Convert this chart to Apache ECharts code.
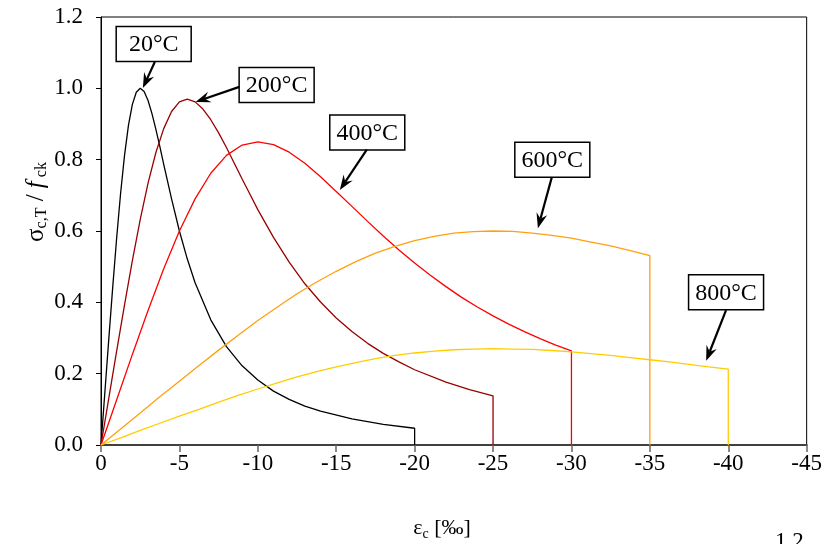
<!DOCTYPE html>
<html>
<head>
<meta charset="utf-8">
<script src="https://cdn.jsdelivr.net/npm/echarts@6/dist/echarts.min.js"></script>
<style>
  html, body { margin: 0; padding: 0; background: #fff; }
  #chart { width: 825px; height: 544px; }
</style>
</head>
<body>
<div id="chart"></div>
<script>
// strain [‰] (magnitude) and relative stress sigma/fck
const strain20 = [0, 0.25, 0.5, 0.75, 1, 1.25, 1.5, 1.75, 2, 2.25, 2.5, 2.75, 3, 3.25, 3.5, 3.75, 4, 4.5, 5, 5.5, 6, 7, 8, 9, 10, 11, 12, 13, 14, 16, 18, 20, 20]
const stress20 = [0, 0.150, 0.299, 0.444, 0.581, 0.706, 0.812, 0.896, 0.955, 0.989, 1.0, 0.991, 0.966, 0.929, 0.885, 0.837, 0.787, 0.690, 0.600, 0.522, 0.455, 0.351, 0.276, 0.222, 0.182, 0.151, 0.128, 0.109, 0.095, 0.073, 0.058, 0.047, 0]

const strain200 = [0, 0.5, 1, 1.5, 2, 2.5, 3, 3.5, 4, 4.5, 5, 5.5, 6, 6.5, 7, 7.5, 8, 8.5, 9, 9.5, 10, 11, 12, 13, 14, 15, 16, 17, 18, 19, 20, 22, 23.5, 25, 25]
const stress200 = [0, 0.132, 0.264, 0.393, 0.517, 0.632, 0.734, 0.820, 0.887, 0.935, 0.962, 0.970, 0.962, 0.942, 0.912, 0.875, 0.834, 0.790, 0.746, 0.703, 0.660, 0.582, 0.513, 0.452, 0.401, 0.356, 0.318, 0.285, 0.257, 0.233, 0.211, 0.176, 0.155, 0.138, 0]

const strain400 = [0, 1, 2, 3, 4, 5, 6, 7, 8, 9, 10, 11, 12, 13, 14, 15, 16, 17, 18, 19, 20, 21, 22, 23, 24, 25, 26, 27, 28, 29, 30, 30]
const stress400 = [0, 0.127, 0.254, 0.377, 0.494, 0.600, 0.690, 0.762, 0.812, 0.841, 0.850, 0.842, 0.821, 0.790, 0.752, 0.711, 0.669, 0.627, 0.586, 0.547, 0.510, 0.476, 0.444, 0.414, 0.387, 0.362, 0.339, 0.318, 0.298, 0.280, 0.264, 0]

const strain600 = [0, 1.25, 2.5, 3.75, 5, 6.25, 7.5, 8.75, 10, 11.25, 12.5, 13.75, 15, 16.25, 17.5, 18.75, 20, 21.25, 22.5, 23.75, 25, 26.25, 27.5, 28.75, 30, 31.25, 32.5, 33.75, 35, 35]
const stress600 = [0, 0.045, 0.090, 0.135, 0.179, 0.223, 0.266, 0.308, 0.349, 0.387, 0.424, 0.457, 0.487, 0.514, 0.538, 0.557, 0.573, 0.585, 0.594, 0.598, 0.600, 0.599, 0.594, 0.588, 0.580, 0.569, 0.558, 0.545, 0.531, 0]

const strain800 = [0, 1.25, 2.5, 3.75, 5, 6.25, 7.5, 8.75, 10, 11.25, 12.5, 13.75, 15, 16.25, 17.5, 18.75, 20, 21.25, 22.5, 23.75, 25, 26.25, 27.5, 28.75, 30, 31.25, 32.5, 33.75, 35, 36.25, 37.5, 38.75, 40, 40]
const stress800 = [0, 0.020, 0.041, 0.061, 0.081, 0.100, 0.120, 0.139, 0.157, 0.174, 0.191, 0.206, 0.219, 0.231, 0.242, 0.251, 0.258, 0.263, 0.267, 0.269, 0.270, 0.269, 0.268, 0.265, 0.261, 0.256, 0.251, 0.245, 0.239, 0.233, 0.226, 0.219, 0.213, 0]

const curveNames = ['20°C', '200°C', '400°C', '600°C', '800°C']
const curveColors = ['#000000', '#990000', '#ff0000', '#ffa010', '#ffcc00']
const curveStrains = [strain20, strain200, strain400, strain600, strain800]
const curveStresses = [stress20, stress200, stress400, stress600, stress800]

const xTicks = { min: -45, max: 0, interval: 5 }
const yTicks = { min: 0, max: 1.2, interval: 0.2 }

// label boxes: box centre, arrow tail, arrow tip (data coords)
const labelBox = [[-3.36, 1.124], [-11.2, 1.009], [-16.98, 0.876], [-28.78, 0.800], [-39.86, 0.428]]
const arrowTail = [[-3.43, 1.074], [-8.82, 1.004], [-16.95, 0.828], [-28.75, 0.751], [-39.86, 0.378]]
const arrowTip = [[-2.67, 1.001], [-6.03, 0.962], [-15.23, 0.715], [-27.86, 0.608], [-38.59, 0.236]]

const FONT = '"Liberation Serif", "Times New Roman", serif'

const chart = echarts.init(document.getElementById('chart'))

const series = curveNames.map((name, i) => ({
  name: name,
  type: 'line',
  showSymbol: false,
  symbol: 'none',
  data: curveStrains[i].map((e, j) => [-e, curveStresses[i][j]]),
  lineStyle: { color: curveColors[i], width: 1.3 },
  itemStyle: { color: curveColors[i] },
  z: 3,
}))

chart.setOption({
  animation: false,
  backgroundColor: '#fff',
  grid: {
    left: 101, right: 15, top: 17, bottom: 99,
    show: true, borderColor: '#000', borderWidth: 1, backgroundColor: 'transparent',
  },
  xAxis: {
    type: 'value',
    min: xTicks.min, max: xTicks.max, interval: xTicks.interval,
    inverse: true,
    axisLine: { show: true, onZero: false, lineStyle: { color: '#404040', width: 2 } },
    axisTick: { show: true, length: 7, lineStyle: { color: '#666', width: 1.5 } },
    splitLine: { show: false },
    axisLabel: {
      margin: 7, color: '#000', fontFamily: FONT, fontSize: 23,
      formatter: v => (v === 0 ? '0' : String(v)),
    },
  },
  yAxis: {
    type: 'value',
    min: yTicks.min, max: yTicks.max, interval: yTicks.interval,
    axisLine: { show: true, lineStyle: { color: '#000', width: 1 } },
    axisTick: { show: true, length: 5, lineStyle: { color: '#000', width: 1 } },
    splitLine: { show: false },
    axisLabel: {
      margin: 18, color: '#000', fontFamily: FONT, fontSize: 23,
      formatter: v => v.toFixed(1),
    },
  },
  series: series,
})

// annotations
const graphics = []
const toPx = p => chart.convertToPixel({ gridIndex: 0 }, p)

curveNames.forEach((name, i) => {
  const c = toPx(labelBox[i])
  const t0 = toPx(arrowTail[i])
  const t1 = toPx(arrowTip[i])
  const bw = 75, bh = 35
  graphics.push({
    type: 'rect',
    shape: { x: c[0] - bw / 2, y: c[1] - bh / 2, width: bw, height: bh },
    style: { fill: '#fff', stroke: '#000', lineWidth: 1.5 },
    z: 10,
  })
  graphics.push({
    type: 'text',
    x: c[0], y: c[1] + 1,
    style: { text: name, font: '24px ' + FONT, fill: '#000', align: 'center', verticalAlign: 'middle' },
    z: 11,
  })
  // arrow
  const dx = t1[0] - t0[0], dy = t1[1] - t0[1]
  const len = Math.sqrt(dx * dx + dy * dy)
  const ux = dx / len, uy = dy / len
  const nx = -uy, ny = ux
  const L = 15, W = 11
  const back = [t1[0] - ux * L, t1[1] - uy * L]
  const notch = [t1[0] - ux * L * 0.65, t1[1] - uy * L * 0.65]
  graphics.push({
    type: 'line',
    shape: { x1: t0[0], y1: t0[1], x2: notch[0], y2: notch[1] },
    style: { stroke: '#000', lineWidth: 2.2 },
    z: 10,
  })
  graphics.push({
    type: 'polygon',
    shape: {
      points: [
        t1,
        [back[0] + nx * W / 2, back[1] + ny * W / 2],
        notch,
        [back[0] - nx * W / 2, back[1] - ny * W / 2],
      ],
    },
    style: { fill: '#000' },
    z: 10,
  })
})

// axis titles
graphics.push({
  type: 'text',
  x: 36, y: 202,
  rotation: Math.PI / 2,
  style: {
    text: '{s|σ}{sub|c,T}{s| / }{f|f}{sub| ck}',
    align: 'center', verticalAlign: 'middle',
    rich: {
      s: { font: '25px ' + FONT, fill: '#000', lineHeight: 28 },
      f: { font: 'italic 25px ' + FONT, fill: '#000', lineHeight: 28 },
      sub: { font: '16px ' + FONT, fill: '#000', lineHeight: 15, verticalAlign: 'bottom' },
    },
  },
  z: 10,
})
graphics.push({
  type: 'text',
  x: 442, y: 528,
  style: {
    text: '{s|ε}{sub|c}{s| [‰]}',
    align: 'center', verticalAlign: 'middle',
    rich: {
      s: { font: '22px ' + FONT, fill: '#000', lineHeight: 26 },
      sub: { font: '14px ' + FONT, fill: '#000', lineHeight: 14, verticalAlign: 'bottom' },
    },
  },
  z: 10,
})
// top of the next chart's tick label, cut by the page edge
graphics.push({
  type: 'text',
  x: 775, y: 530,
  style: { text: '1.2', font: '23px ' + FONT, fill: '#000', align: 'left', verticalAlign: 'top' },
  z: 10,
})

chart.setOption({ graphic: graphics })
</script>
</body>
</html>
